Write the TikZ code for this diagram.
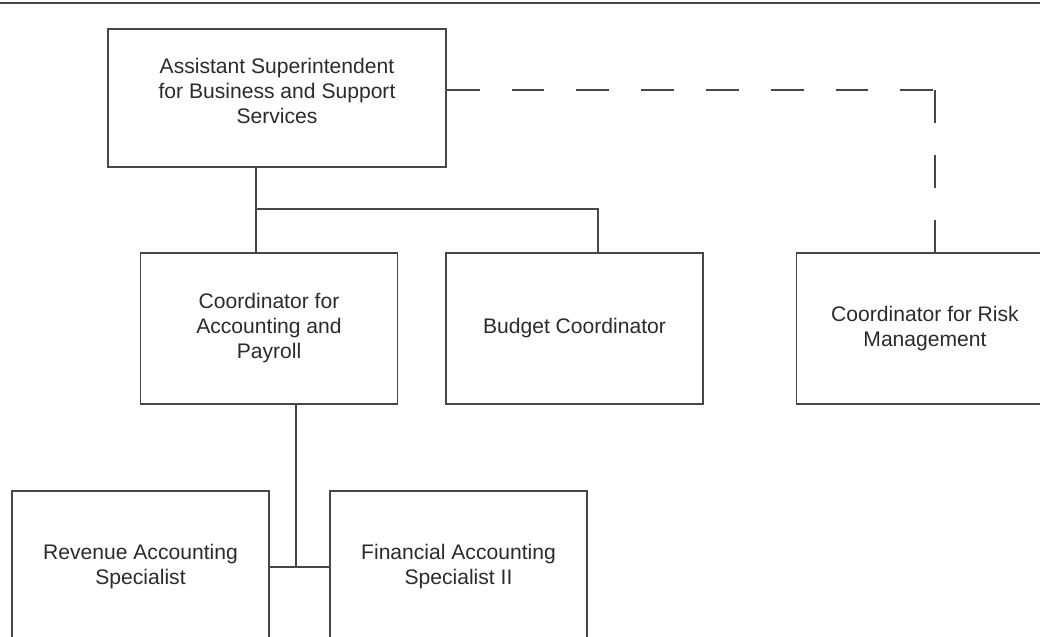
\documentclass[tikz,border=0pt]{standalone}
\usepackage{fontspec}
\setmainfont{Liberation Sans}
\usepackage{tikz}
\usetikzlibrary{calc}
\definecolor{linegray}{HTML}{474747}
\definecolor{textgray}{HTML}{2B2B2B}
\tikzset{
    % one box of the chart
    unit/.style={
        draw=linegray, line width=1pt, rectangle, align=center,
        text=textgray, font=\fontsize{15}{17.8}\selectfont,
        minimum width=6.42cm, minimum height=3.78cm, inner sep=0pt
    },
    topunit/.style={unit, minimum width=8.45cm, minimum height=3.45cm, text depth=0.35cm},
    link/.style={draw=linegray, line width=1pt},
    % dashed staff line
    stafflink/.style={link, dash pattern=on 0.82cm off 0.8cm}
}

\begin{document}
\begin{tikzpicture}[x=0.025cm, y=-0.025cm]
    \useasboundingbox (0,0) rectangle (1040,637);
    \clip (0,0) rectangle (1040,637);
    \draw[link, line width=1.2pt] (0,3) -- (1040,3);

    \node[topunit] (asst) at (277,98) {Assistant Superintendent\\for Business and Support\\Services};
    \node[unit] (acct) at (269,328.5) {Coordinator for\\Accounting and\\Payroll};
    \node[unit] (budget) at (574.5,328.5) {Budget Coordinator};
    \node[unit] (risk) at (925,328.5) {Coordinator for Risk\\Management};
    \node[unit] (revenue) at (140.5,566.5) {Revenue Accounting\\Specialist};
    \node[unit] (finance) at (458.5,566.5) {Financial Accounting\\Specialist II};

    \coordinate (j1) at (256,209);
    \coordinate (j2) at (598,209);
    \coordinate (j3) at (296,567);
    \coordinate (d1) at (935,90);

    \begin{scope}[link]
        \draw (asst.south -| j1) -- (acct.north -| j1);
        \draw (j1) -- (j2) -- (budget.north -| j2);
        \draw (acct.south -| j3) -- (j3);
        \draw (revenue.east |- j3) -- (finance.west |- j3);
    \end{scope}
    \draw[stafflink] (asst.east |- d1) -- (d1);
    \draw[stafflink] (d1) -- (risk.north -| d1);
\end{tikzpicture}
\end{document}
